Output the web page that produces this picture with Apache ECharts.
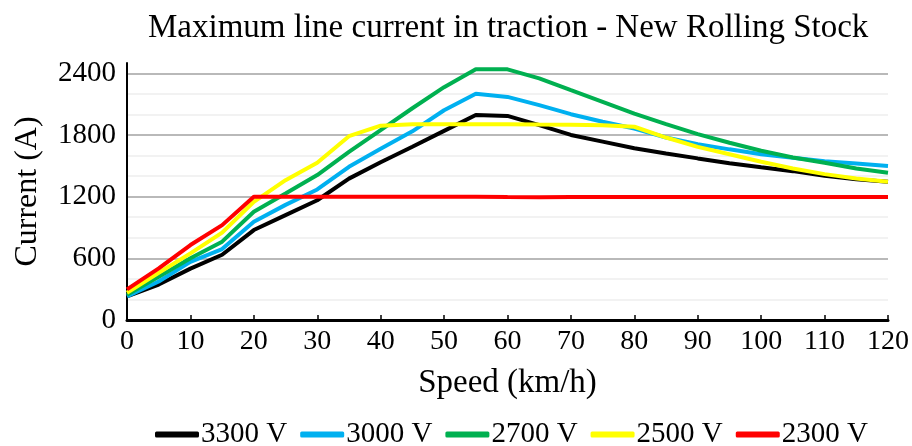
<!DOCTYPE html>
<html>
<head>
    <meta charset="utf-8">
    <title>Maximum line current in traction</title>
    <style>
        html, body { margin: 0; padding: 0; background: #fff; }
        #main { width: 912px; height: 446px; }
    </style>
</head>
<body>
    <div id="main"></div>
    <script type="text/javascript" src="https://cdn.jsdelivr.net/npm/echarts@6/dist/echarts.min.js"></script>
    <script type="text/javascript">
        // speed steps (km/h)
        var speeds = [0, 5, 10, 15, 20, 25, 30, 35, 40, 45, 50, 55, 60, 65, 70, 75, 80, 85, 90, 95, 100, 105, 110, 115, 120];
        var seriesNames = ['3300 V', '3000 V', '2700 V', '2500 V', '2300 V'];
        var seriesColors = ['#000000', '#00b0f0', '#00b050', '#ffff00', '#ff0000'];
        // current (A)
        var v3300 = [230, 345, 500, 635, 875, 1020, 1165, 1375, 1535, 1685, 1840, 1995, 1985, 1895, 1800, 1735, 1670, 1620, 1572, 1525, 1485, 1448, 1402, 1368, 1345];
        var v3000 = [230, 375, 565, 690, 955, 1120, 1270, 1490, 1665, 1835, 2040, 2200, 2170, 2090, 2002, 1928, 1863, 1775, 1710, 1660, 1613, 1578, 1545, 1522, 1497];
        var v2700 = [245, 420, 600, 762, 1053, 1230, 1410, 1636, 1848, 2060, 2265, 2440, 2438, 2350, 2235, 2122, 2008, 1905, 1808, 1724, 1646, 1581, 1529, 1474, 1432];
        var v2500 = [265, 460, 648, 850, 1150, 1360, 1530, 1788, 1890, 1903, 1905, 1905, 1905, 1902, 1900, 1895, 1880, 1775, 1684, 1613, 1539, 1474, 1419, 1377, 1344];
        var v2300 = [298, 502, 729, 923, 1200, 1200, 1200, 1200, 1200, 1200, 1200, 1200, 1196, 1195, 1196, 1196, 1196, 1196, 1196, 1196, 1196, 1196, 1196, 1196, 1196];
        var yTicks = [0, 600, 1200, 1800, 2400];

        var font = 'Liberation Serif';
        var allValues = [v3300, v3000, v2700, v2500, v2300];

        var chart = echarts.init(document.getElementById('main'), null, { renderer: 'canvas' });

        var series = allValues.map(function(vals, i) {
            return {
                name: seriesNames[i],
                type: 'line',
                showSymbol: false,
                symbol: 'none',
                yAxisIndex: 0,
                lineStyle: { color: seriesColors[i], width: 4 },
                itemStyle: { color: seriesColors[i] },
                data: speeds.map(function(s, k) { return [s, vals[k]]; })
            };
        });

        var option = {
            animation: false,
            backgroundColor: '#fff',
            textStyle: { fontFamily: font, color: '#000' },
            title: {
                text: 'Maximum line current in traction - New Rolling Stock',
                left: 143,
                top: 7,
                textStyle: { fontFamily: font, fontSize: 33, fontWeight: 'normal', color: '#000' }
            },
            legend: {
                top: 415,
                left: 150,
                icon: 'roundRect',
                itemWidth: 44,
                itemHeight: 6,
                itemGap: 13,
                textStyle: { fontFamily: font, fontSize: 29, color: '#000', padding: [0, 0, 0, -3] },
                data: seriesNames
            },
            grid: { left: 127, right: 24, top: 63, bottom: 126, containLabel: false },
            xAxis: {
                type: 'value',
                min: 0,
                max: 120,
                interval: 10,
                name: 'Speed (km/h)',
                nameLocation: 'middle',
                nameGap: 47,
                nameTextStyle: { fontFamily: font, fontSize: 33, color: '#000' },
                axisLine: { show: true, lineStyle: { color: '#000', width: 3 } },
                axisTick: { show: true, inside: true, length: 5, lineStyle: { color: '#000', width: 1.5 } },
                axisLabel: { fontFamily: font, fontSize: 28, color: '#000', margin: 8 },
                splitLine: { show: false }
            },
            yAxis: [{
                type: 'value',
                min: 0,
                max: 2500,
                interval: 600,
                name: 'Current (A)',
                nameLocation: 'middle',
                nameGap: 83,
                nameTextStyle: { fontFamily: font, fontSize: 32, color: '#000' },
                axisLine: { show: true, lineStyle: { color: '#000', width: 2 } },
                axisTick: { show: false },
                axisLabel: {
                    fontFamily: font, fontSize: 29, color: '#000', margin: 11, showMaxLabel: false,
                    formatter: function(v) { return yTicks.indexOf(v) >= 0 ? String(v) : ''; }
                },
                splitLine: { show: true, showMinLine: false, showMaxLine: false, lineStyle: { color: '#a6a6a6', width: 1.5 } },
                z: 3
            }, {
                // light 200 A grid
                type: 'value',
                min: 0,
                max: 2500,
                interval: 200,
                position: 'left',
                axisLine: { show: false },
                axisTick: { show: false },
                axisLabel: { show: false },
                splitLine: { show: true, showMinLine: false, showMaxLine: false, lineStyle: { color: '#eeeeee', width: 1.5 } },
                z: 1
            }],
            series: series
        };

        chart.setOption(option);
    </script>
</body>
</html>
